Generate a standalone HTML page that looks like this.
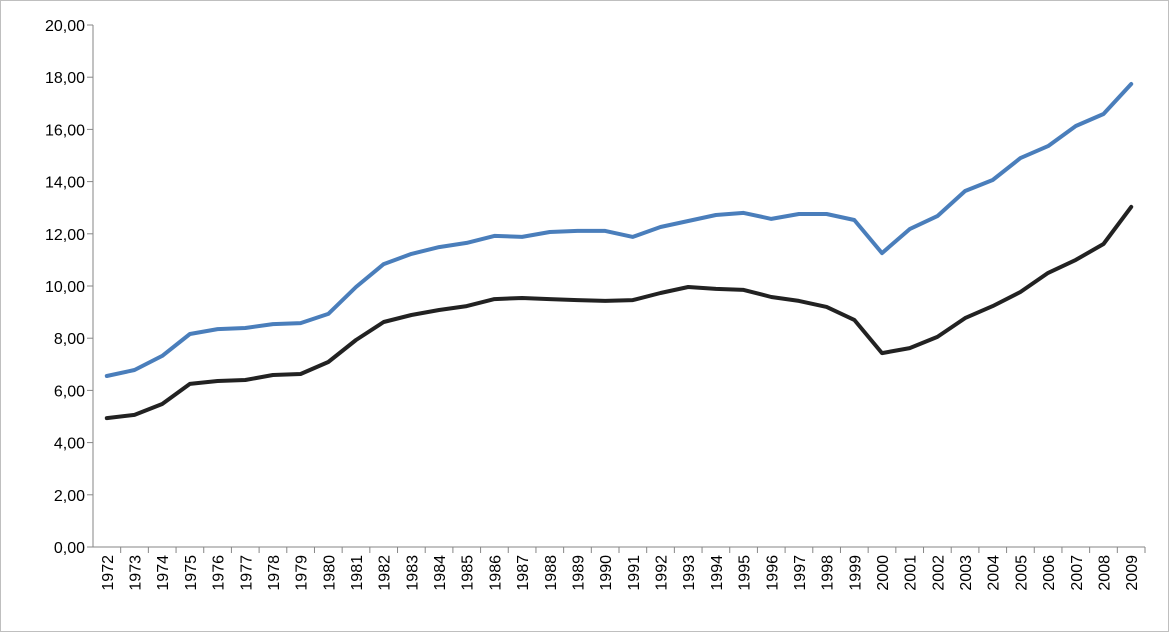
<!DOCTYPE html>
<html><head><meta charset="utf-8"><style>
html,body{margin:0;padding:0;background:#fff;}
svg{display:block;font-family:"Liberation Sans",sans-serif;}
</style></head><body>
<svg id="chart" width="1170" height="633">
<rect x="0.5" y="0.5" width="1168" height="631" fill="#fff" stroke="#bfbfbf"/>
<g id="axes"></g><g id="series"></g>
</svg>
<script>
const years=[];for(let yr=1972;yr<=2009;yr++)years.push(String(yr));
const blueValues=[6.55,6.78,7.32,8.16,8.35,8.39,8.54,8.58,8.93,9.96,10.84,11.23,11.49,11.65,11.92,11.88,12.07,12.11,12.11,11.88,12.26,12.49,12.72,12.80,12.57,12.76,12.76,12.53,11.26,12.18,12.68,13.64,14.06,14.90,15.36,16.13,16.59,17.74];
const blackValues=[4.94,5.06,5.48,6.25,6.36,6.40,6.59,6.63,7.09,7.93,8.62,8.89,9.08,9.23,9.50,9.54,9.50,9.46,9.43,9.46,9.73,9.96,9.89,9.85,9.58,9.43,9.20,8.70,7.43,7.62,8.05,8.77,9.23,9.77,10.50,11.00,11.61,13.03];
const yTicks=[0,2,4,6,8,10,12,14,16,18,20];
const NS="http://www.w3.org/2000/svg";
const plotLeft=93,plotRight=1145,plotTop=25,plotBottom=547,yMax=20;
const step=(plotRight-plotLeft)/years.length;
const xPos=i=>plotLeft+step*(i+0.5);
const yPos=v=>plotBottom-(v/yMax)*(plotBottom-plotTop);
const axesG=document.getElementById('axes'),seriesG=document.getElementById('series');
function mk(tag,attrs,parent){const e=document.createElementNS(NS,tag);for(const k in attrs)e.setAttribute(k,attrs[k]);parent.appendChild(e);return e;}
yTicks.forEach(t=>{
 const y=yPos(t);
 const tk=mk('line',{x1:plotLeft-6,x2:plotLeft,y1:y,y2:y,stroke:'#868686'},axesG);
 
 
 const tx=mk('text',{x:plotLeft-8,y:y+6,'text-anchor':'end','font-size':16,fill:'#000'},axesG);
 tx.textContent=t.toFixed(2).replace('.',',');
 
 
});
const ya=mk('line',{x1:plotLeft,x2:plotLeft,y1:plotTop,y2:plotBottom,stroke:'#868686'},axesG);


const xa=mk('line',{x1:plotLeft,x2:plotRight,y1:plotBottom,y2:plotBottom,stroke:'#868686'},axesG);


years.forEach((yr,i)=>{
 const bx=plotLeft+step*(i+1);
 const tk=mk('line',{x1:bx,x2:bx,y1:plotBottom,y2:plotBottom+6,stroke:'#868686'},axesG);
 
 
 const x=xPos(i)+6,y=plotBottom+8;
 const tx=mk('text',{x:x,y:y,'text-anchor':'end','font-size':16,fill:'#000',transform:`rotate(-90 ${x} ${y})`},axesG);
 tx.textContent=yr;
 
 
});
function drawLine(vals,color,name){
 const d=vals.map((v,i)=>(i?'L':'M')+xPos(i).toFixed(1)+' '+yPos(v).toFixed(1)).join(' ');
 const p=mk('path',{d:d,fill:'none',stroke:color,'stroke-width':4,'stroke-linejoin':'round','stroke-linecap':'round'},seriesG);
 
 
}
drawLine(blueValues,'#4a7ebb','blue-series-line');
drawLine(blackValues,'#222222','black-series-line');
</script>
</body></html>
